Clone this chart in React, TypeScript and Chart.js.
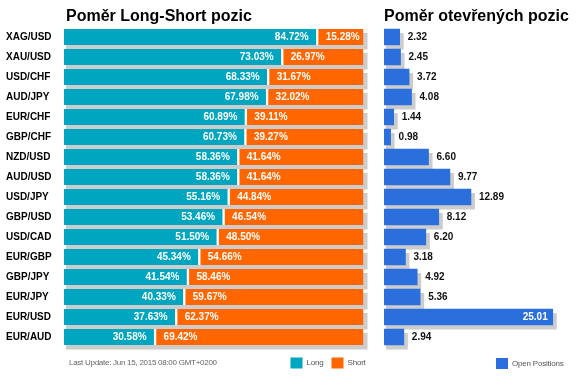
import React, { useEffect, useRef } from "react";
import { Chart, registerables } from "chart.js";

Chart.register(...registerables);

const categories = [
  "XAG/USD", "XAU/USD", "USD/CHF", "AUD/JPY", "EUR/CHF", "GBP/CHF", "NZD/USD", "AUD/USD",
  "USD/JPY", "GBP/USD", "USD/CAD", "EUR/GBP", "GBP/JPY", "EUR/JPY", "EUR/USD", "EUR/AUD",
];
const longValues = [84.72, 73.03, 68.33, 67.98, 60.89, 60.73, 58.36, 58.36, 55.16, 53.46, 51.5, 45.34, 41.54, 40.33, 37.63, 30.58];
const shortValues = [15.28, 26.97, 31.67, 32.02, 39.11, 39.27, 41.64, 41.64, 44.84, 46.54, 48.5, 54.66, 58.46, 59.67, 62.37, 69.42];
const openValues = [2.32, 2.45, 3.72, 4.08, 1.44, 0.98, 6.6, 9.77, 12.89, 8.12, 6.2, 3.18, 4.92, 5.36, 25.01, 2.94];

const leftTitle = "Poměr Long-Short pozic";
const rightTitle = "Poměr otevřených pozic";
const footerText = "Last Update: Jun 15, 2015 08:00 GMT+0200";
const legendLong = "Long";
const legendShort = "Short";
const legendOpen = "Open Positions";

const FONT = "'Liberation Sans', Arial, sans-serif";
const TEAL = "#00a5c0";
const ORANGE = "#ff6600";
const BLUE = "#2a6fdb";
const SHADOW = "#cccccc";
const W = 584;
const H = 389;

function drawShadows(chart: any) {
  const ctx = chart.ctx;
  const metas = chart.getSortedVisibleDatasetMetas();
  if (!metas.length) return;
  const n = metas[0].data.length;
  ctx.save();
  ctx.fillStyle = SHADOW;
  for (let i = 0; i < n; i++) {
    const first = metas[0].data[i];
    const last = metas[metas.length - 1].data[i];
    const x0 = first.base;
    const x1 = last.x;
    const h = first.height;
    const y0 = first.y - h / 2;
    ctx.fillRect(x0 + 2, y0 + 4, x1 - x0 + 2, h + 0.5);
  }
  ctx.restore();
}

function legendBox(ctx: any, x: number, y: number, color: string, text: string) {
  ctx.fillStyle = color;
  ctx.fillRect(x, y, 12, 11);
  ctx.fillStyle = "#555555";
  ctx.font = `8px ${FONT}`;
  ctx.textAlign = "left";
  ctx.textBaseline = "middle";
  (ctx as any).letterSpacing = "-0.2px";
  ctx.fillText(text, x + 16, y + 5.5);
  (ctx as any).letterSpacing = "0px";
}

const leftPlugin = {
  id: "leftDecor",
  beforeDatasetsDraw(chart: any) {
    drawShadows(chart);
  },
  afterDatasetsDraw(chart: any) {
    const ctx = chart.ctx;
    ctx.save();
    ctx.font = `bold 10px ${FONT}`;
    ctx.fillStyle = "#ffffff";
    ctx.textBaseline = "middle";
    const mLong = chart.getDatasetMeta(0);
    const mShort = chart.getDatasetMeta(1);
    mLong.data.forEach((bar: any, i: number) => {
      ctx.textAlign = "right";
      ctx.fillText(longValues[i].toFixed(2) + "%", bar.x - 9, bar.y + 0.5);
    });
    mShort.data.forEach((bar: any, i: number) => {
      ctx.textAlign = "left";
      ctx.fillText(shortValues[i].toFixed(2) + "%", bar.base + 8, bar.y + 0.5);
    });
    ctx.restore();
  },
  afterDraw(chart: any) {
    const ctx = chart.ctx;
    ctx.save();
    ctx.fillStyle = "#000000";
    ctx.font = `bold 16px ${FONT}`;
    ctx.textAlign = "left";
    ctx.textBaseline = "alphabetic";
    ctx.fillText(leftTitle, 66, 21);
    ctx.fillStyle = "#666666";
    ctx.font = `8px ${FONT}`;
    ctx.textBaseline = "middle";
    (ctx as any).letterSpacing = "-0.27px";
    ctx.fillText(footerText, 69, 363);
    (ctx as any).letterSpacing = "0px";
    legendBox(ctx, 290.5, 357.5, TEAL, legendLong);
    legendBox(ctx, 331.5, 357.5, ORANGE, legendShort);
    ctx.restore();
  },
};

const rightPlugin = {
  id: "rightDecor",
  beforeDatasetsDraw(chart: any) {
    drawShadows(chart);
  },
  afterDatasetsDraw(chart: any) {
    const ctx = chart.ctx;
    ctx.save();
    ctx.font = `bold 10px ${FONT}`;
    ctx.textBaseline = "middle";
    const meta = chart.getDatasetMeta(0);
    meta.data.forEach((bar: any, i: number) => {
      const v = openValues[i];
      const txt = v.toFixed(2);
      if (v > 20) {
        ctx.fillStyle = "#ffffff";
        ctx.textAlign = "right";
        ctx.fillText(txt, bar.x - 5, bar.y + 0.5);
      } else {
        ctx.fillStyle = "#111111";
        ctx.textAlign = "left";
        ctx.fillText(txt, bar.x + 8, bar.y + 0.5);
      }
    });
    ctx.restore();
  },
  afterDraw(chart: any) {
    const ctx = chart.ctx;
    ctx.save();
    ctx.fillStyle = "#000000";
    ctx.font = `bold 16px ${FONT}`;
    ctx.textAlign = "left";
    ctx.textBaseline = "alphabetic";
    ctx.fillText(rightTitle, 384, 21);
    legendBox(ctx, 496, 358, BLUE, legendOpen);
    ctx.restore();
  },
};

export default function App() {
  const leftRef = useRef<HTMLCanvasElement | null>(null);
  const rightRef = useRef<HTMLCanvasElement | null>(null);

  useEffect(() => {
    const common = {
      responsive: false,
      maintainAspectRatio: false,
      animation: false as const,
      devicePixelRatio: 1,
      indexAxis: "y" as const,
      events: [] as any[],
      plugins: { legend: { display: false }, tooltip: { enabled: false }, title: { display: false } },
    };

    const left = new Chart(leftRef.current as HTMLCanvasElement, {
      type: "bar",
      data: {
        labels: categories,
        datasets: [
          {
            label: legendLong,
            data: longValues,
            backgroundColor: TEAL,
            borderColor: "#ffffff",
            borderWidth: { top: 0, bottom: 0, left: 0, right: 2 },
            borderSkipped: false,
            barThickness: 16,
          },
          {
            label: legendShort,
            data: shortValues,
            backgroundColor: ORANGE,
            borderColor: "#ffffff",
            borderWidth: { top: 0, bottom: 0, left: 1, right: 0 },
            borderSkipped: false,
            barThickness: 16,
          },
        ],
      },
      options: {
        ...common,
        layout: { padding: { left: 6, right: W - 363.5, top: 27, bottom: H - 347 } },
        scales: {
          x: { display: false, stacked: true, min: 0, max: 100 },
          y: {
            stacked: true,
            grid: { display: false },
            border: { display: false },
            afterFit: (s: any) => {
              s.width = 58;
            },
            ticks: {
              autoSkip: false,
              crossAlign: "far",
              color: "#000000",
              font: { family: FONT, size: 10, weight: "bold" },
            },
          },
        },
      } as any,
      plugins: [leftPlugin],
    });

    const right = new Chart(rightRef.current as HTMLCanvasElement, {
      type: "bar",
      data: {
        labels: categories,
        datasets: [
          {
            label: legendOpen,
            data: openValues,
            backgroundColor: BLUE,
            borderWidth: 0,
            barThickness: 16,
          },
        ],
      },
      options: {
        ...common,
        layout: { padding: { left: 384, right: W - 559.4, top: 27, bottom: H - 347 } },
        scales: {
          x: { display: false, min: 0, max: 26 },
          y: { display: false },
        },
      } as any,
      plugins: [rightPlugin],
    });

    return () => {
      left.destroy();
      right.destroy();
    };
  }, []);

  const canvasStyle: React.CSSProperties = {
    position: "absolute",
    left: 0,
    top: 0,
    width: W,
    height: H,
  };

  return (
    <div style={{ position: "fixed", left: 0, top: 0, width: W, height: H, background: "#ffffff" }}>
      <canvas ref={leftRef} width={W} height={H} style={canvasStyle} />
      <canvas ref={rightRef} width={W} height={H} style={canvasStyle} />
    </div>
  );
}
